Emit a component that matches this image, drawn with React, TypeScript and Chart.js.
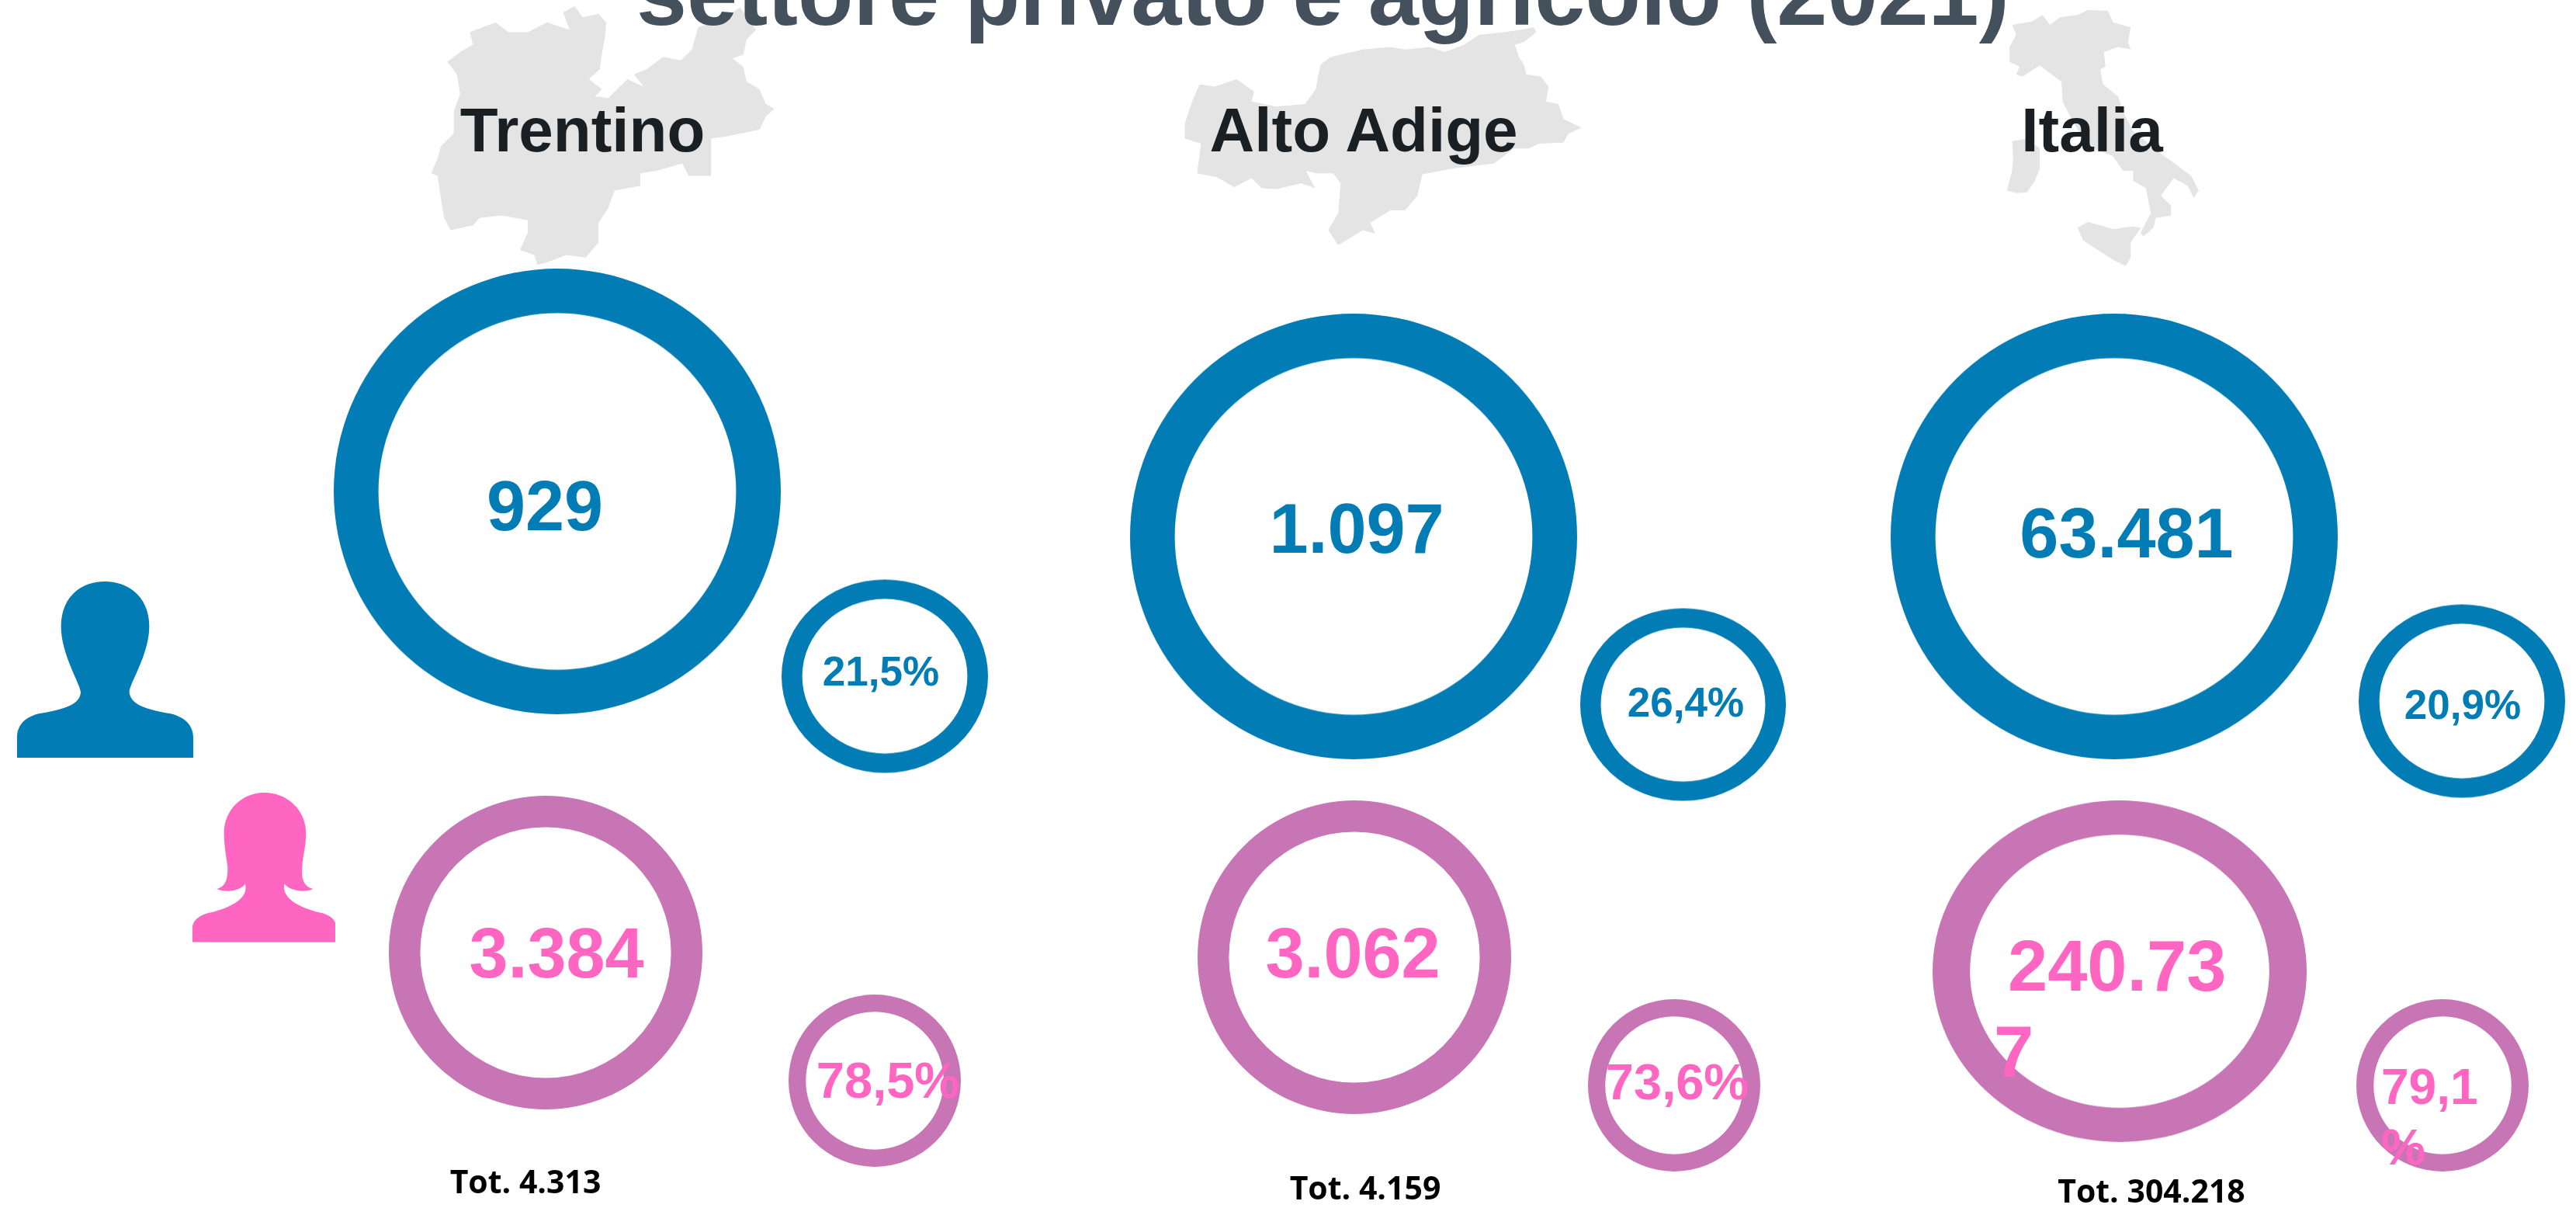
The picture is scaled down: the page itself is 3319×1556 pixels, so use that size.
import React, { useEffect, useRef } from "react";
import { Chart, registerables } from "chart.js";

Chart.register(...registerables);

// ---- data ----
const regions = ["Trentino", "Alto Adige", "Italia"];
const maleCounts = [929, 1097, 63481];
const femaleCounts = [3384, 3062, 240737];
const maleShares = [21.5, 26.4, 20.9];
const femaleShares = [78.5, 73.6, 79.1];
const totals = [4313, 4159, 304218];
const titleText = "settore privato e agricolo (2021)";

// ---- layout ----
const BLUE = "#027cb4";
const MAUVE = "#c875b5";
const PINK = "#ff66c2";
const GREY = "#e4e4e4";
const SANS = "'Liberation Sans', Arial, sans-serif";
const OPEN = "'Open Sans', sans-serif";

const maleBig = [[718, 633, 288, 287], [1744, 691, 288, 287], [2723.5, 691, 288, 287]];
const femaleBig = [[703, 1227, 202, 202], [1745, 1233, 202, 202], [2731, 1251, 241, 220]];
const maleSmall = [[1140, 870.5, 133, 124.5], [2168.5, 907, 132.5, 124], [3172, 902.5, 133, 124.5]];
const femaleSmall = [[1127, 1392, 111, 111], [2157, 1398, 111, 111], [3147, 1398, 111, 111]];

const num = (v: number) => new Intl.NumberFormat("de-DE").format(v);
const pct = (v: number) => v.toFixed(1).replace(".", ",") + "%";

function Ring({ box, value, label, color }: { box: number[]; value: number; label: string; color: string }) {
  const ref = useRef<HTMLCanvasElement>(null);
  const [cx, cy, rx, ry] = box;
  const R = Math.max(rx, ry);
  useEffect(() => {
    const chart = new Chart(ref.current!, {
      type: "doughnut",
      data: {
        labels: [label],
        datasets: [{ data: [value], backgroundColor: [color], borderWidth: 0 }],
      },
      options: {
        animation: false,
        responsive: false,
        cutout: "80%",
        plugins: { legend: { display: false }, tooltip: { enabled: false } },
        layout: { padding: 0 },
      },
    });
    return () => chart.destroy();
  }, []);
  return (
    <canvas
      ref={ref}
      width={2 * R}
      height={2 * R}
      style={{
        position: "absolute",
        left: cx - R,
        top: cy - R,
        transform: `scale(${rx / R}, ${ry / R})`,
        transformOrigin: "center center",
      }}
    />
  );
}

function Label({ text, x, base, size, color, family = SANS, align = "left", wrap, lh, indent }: any) {
  const asc = family === OPEN ? 1.069 : 0.905;
  const desc = family === OPEN ? 0.293 : 0.212;
  const L = lh ?? size * 1.2;
  const top = base - ((L - (asc + desc) * size) / 2 + asc * size);
  const style: React.CSSProperties = {
    position: "absolute",
    top,
    fontFamily: family,
    fontWeight: 700,
    fontSize: size,
    lineHeight: `${L}px`,
    color,
    whiteSpace: wrap ? "normal" : "nowrap",
    textAlign: align,
  };
  if (wrap) {
    style.left = x;
    style.width = wrap;
    style.overflowWrap = "anywhere";
    style.textIndent = indent ?? 0;
  } else if (align === "center") {
    style.left = x - 1000;
    style.width = 2000;
  } else {
    style.left = x;
  }
  return <div style={style}>{text}</div>;
}

export default function App() {
  return (
    <div style={{ position: "absolute", left: 0, top: 0, width: 3319, height: 1556, overflow: "hidden", background: "#fff" }}>
      {/* map silhouettes and person icons */}
      <svg width={3319} height={1556} style={{ position: "absolute", left: 0, top: 0 }}>
        <g transform="scale(0.8292,0.6378)" fill={GREY}>
          <polygon points="893,12 905,35 930,28 942,45 940,75 935,110 932,140 915,160 935,180 925,195 945,198 975,160 1000,175 985,150 1005,140 1030,115 1058,122 1075,100 1085,55 1120,40 1150,15 1175,60 1160,80 1155,110 1138,118 1155,135 1160,165 1180,180 1190,210 1203,220 1190,235 1180,262 1130,275 1105,280 1105,310 1105,355 1070,355 1060,330 1020,345 995,350 995,375 955,385 945,420 930,450 930,490 910,520 880,515 850,530 835,535 830,515 808,505 820,470 820,445 780,435 745,440 735,455 700,465 690,440 685,400 680,355 670,350 680,320 685,295 705,270 705,225 715,190 710,150 695,125 715,105 735,90 730,65 770,45 790,65 820,65 850,45 885,60 875,25" />
        </g>
        <g transform="translate(1300,0) scale(0.6378,0.6378)" fill={GREY}>
          <polygon points="1060,55 1065,65 1040,85 1022,90 1030,115 1040,130 1045,150 1075,155 1090,175 1085,205 1110,210 1120,240 1157,258 1130,270 1120,288 1070,290 1050,300 1020,300 980,330 900,340 835,352 825,395 800,425 770,425 730,450 740,472 715,465 690,480 665,495 645,465 665,430 670,370 655,350 620,350 600,345 618,380 590,370 540,382 510,380 490,360 455,378 420,358 380,350 388,290 355,280 355,250 370,205 385,170 415,175 460,160 495,185 490,205 540,215 598,210 620,180 625,150 630,130 650,115 715,100 770,95 800,100 850,95 880,105 920,90 950,70 1000,65 1035,60" />
        </g>
        <g transform="translate(2300,0) scale(0.6499,0.6378)" fill={GREY}>
          <polygon points="450,50 490,43 510,30 525,50 545,35 580,30 600,20 640,22 650,45 685,55 680,85 685,100 660,95 632,105 635,135 625,140 630,170 660,195 670,225 690,265 745,310 785,340 805,355 820,385 810,400 798,375 770,360 745,395 765,415 765,435 735,440 730,460 710,478 705,470 725,430 715,380 690,365 690,345 670,345 650,315 610,300 590,280 560,225 550,205 548,165 505,132 470,155 458,150 465,135 445,125 445,95 458,70" />
          <polygon points="450,285 480,280 505,300 505,340 495,365 480,388 460,390 440,385 450,345 452,320" />
          <polygon points="580,460 600,448 625,455 650,463 690,457 705,460 685,490 685,520 675,537 650,525 620,505 590,485" />
        </g>
        <g transform="translate(0,720) scale(0.3333)">
          <path fill={BLUE} d="M66 768 L66 690 C66 640 100 610 150 598 C220 585 310 570 312 515 C310 480 236 370 236 260 C236 150 310 87 405 87 C500 87 577 150 577 260 C577 370 500 480 500 515 C505 570 590 585 660 598 C710 610 747 640 747 690 L747 768 Z" />
          <path fill={PINK} d="M744 1481 L744 1420 C750 1385 790 1370 820 1365 C880 1350 950 1320 950 1270 L948 1255 C930 1285 870 1290 838 1275 C880 1265 880 1220 880 1190 C875 1150 866 1110 866 1060 C866 970 935 903 1022 903 C1110 903 1183 970 1183 1060 C1183 1110 1170 1150 1168 1190 C1165 1230 1170 1265 1210 1275 C1180 1290 1120 1285 1100 1255 L1098 1270 C1100 1320 1170 1350 1230 1365 C1260 1370 1290 1385 1296 1405 L1296 1481 Z" />
        </g>
      </svg>

      {regions.map((r, i) => (
        <React.Fragment key={r}>
          <Ring box={maleBig[i]} value={maleCounts[i]} label={`${r} uomini`} color={BLUE} />
          <Ring box={femaleBig[i]} value={femaleCounts[i]} label={`${r} donne`} color={MAUVE} />
          <Ring box={maleSmall[i]} value={maleShares[i]} label={`${r} uomini %`} color={BLUE} />
          <Ring box={femaleSmall[i]} value={femaleShares[i]} label={`${r} donne %`} color={MAUVE} />
        </React.Fragment>
      ))}

      <Label text={titleText} x={820} base={33} size={117} color="#44505b" />

      <Label text={regions[0]} x={750.5} base={196} size={80} color="#1a1f24" align="center" />
      <Label text={regions[1]} x={1757} base={196} size={80} color="#1a1f24" align="center" />
      <Label text={regions[2]} x={2695.5} base={196} size={80} color="#1a1f24" align="center" />

      <Label text={num(maleCounts[0])} x={702} base={683} size={90} color={BLUE} align="center" />
      <Label text={num(maleCounts[1])} x={1748} base={712} size={90} color={BLUE} align="center" />
      <Label text={num(maleCounts[2])} x={2740} base={718} size={90} color={BLUE} align="center" />

      <Label text={pct(maleShares[0])} x={1135} base={883} size={53} color={BLUE} align="center" />
      <Label text={pct(maleShares[1])} x={2172} base={923} size={53} color={BLUE} align="center" />
      <Label text={pct(maleShares[2])} x={3173} base={926} size={53} color={BLUE} align="center" />

      <Label text={num(femaleCounts[0])} x={717} base={1259} size={90} color={PINK} align="center" />
      <Label text={num(femaleCounts[1])} x={1743} base={1259} size={90} color={PINK} align="center" />
      <Label text={num(femaleCounts[2])} x={2569} base={1276} size={92} color={PINK} wrap={310} lh={110} indent={18} />

      <Label text={pct(femaleShares[0])} x={1144} base={1415} size={65} color={PINK} align="center" />
      <Label text={pct(femaleShares[1])} x={2161} base={1417} size={65} color={PINK} align="center" />
      <Label text={pct(femaleShares[2])} x={3068} base={1422} size={64} color={PINK} wrap={130} lh={78} />

      <Label text={`Tot. ${num(totals[0])}`} x={677} base={1538} size={41} color="#000" family={OPEN} align="center" />
      <Label text={`Tot. ${num(totals[1])}`} x={1759} base={1546} size={41} color="#000" family={OPEN} align="center" />
      <Label text={`Tot. ${num(totals[2])}`} x={2772} base={1550} size={41} color="#000" family={OPEN} align="center" />
    </div>
  );
}
